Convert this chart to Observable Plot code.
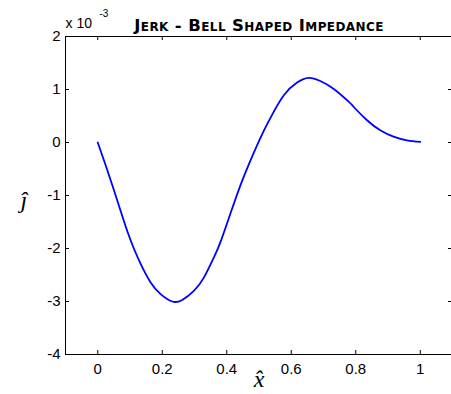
<!DOCTYPE html>
<html>
<head>
<meta charset="utf-8">
<script src="https://cdn.jsdelivr.net/npm/d3@7"></script>
<script src="https://cdn.jsdelivr.net/npm/@observablehq/plot@0.6"></script>
<style>
  html, body { margin: 0; padding: 0; background: #fff; }
</style>
</head>
<body>
<div id="chart"></div>
<script>
// Data (jerk values in units of 1e-3)
const xHat = [0, 0.025, 0.046, 0.066, 0.092, 0.112, 0.133, 0.164, 0.195, 0.231, 0.262, 0.298, 0.329, 0.360, 0.381, 0.412, 0.448, 0.484, 0.510, 0.536, 0.577, 0.618, 0.654, 0.690, 0.732, 0.778, 0.794, 0.835, 0.876, 0.917, 0.959, 1.0];
const jHat = [0, -0.44, -0.82, -1.20, -1.68, -2.00, -2.29, -2.64, -2.86, -3.00, -2.97, -2.80, -2.55, -2.17, -1.87, -1.33, -0.72, -0.19, 0.16, 0.47, 0.89, 1.13, 1.22, 1.16, 1.01, 0.77, 0.67, 0.42, 0.23, 0.11, 0.04, 0.01];
const xTicks = [0, 0.2, 0.4, 0.6, 0.8, 1];
const xTickLabels = ["0", "0.2", "0.4", "0.6", "0.8", "1"];
const yTicks = [2, 1, 0, -1, -2, -3, -4];
const yTickLabels = ["2", "1", "0", "-1", "-2", "-3", "-4"];
const titleText = "Jerk - Bell Shaped Impedance";
const exponentBase = "x 10";
const exponentPower = "-3";
const xLabel = "x\u0302";
const yLabel = "\u0135";

const data = xHat.map((x, i) => ({x, j: jHat[i]}));
const tickLen = 4;
const frameH = 394 - 36 - 40;
const frameW = 451 + 1 - 65;

const chart = Plot.plot({
  width: 451,
  height: 394,
  marginLeft: 65,
  marginRight: -1,
  marginTop: 36,
  marginBottom: 40,
  style: {fontFamily: "'Liberation Sans', Arial, sans-serif", fontSize: "15px", color: "#000", background: "#fff"},
  x: {domain: [-0.1, 1.1], label: null},
  y: {domain: [-4, 2], label: null},
  marks: [
    Plot.frame({stroke: "#000", strokeWidth: 1}),
    // inward ticks (bottom, top, left, right)
    Plot.ruleX(xTicks, {stroke: "#000", insetTop: frameH - tickLen}),
    Plot.ruleX(xTicks, {stroke: "#000", insetBottom: frameH - tickLen}),
    Plot.ruleY(yTicks, {stroke: "#000", insetRight: frameW - tickLen}),
    Plot.ruleY(yTicks, {stroke: "#000", insetLeft: frameW - tickLen}),
    Plot.axisX(xTicks, {tickSize: 0, tickPadding: 9, tickFormat: (d, i) => xTickLabels[i], fontSize: 15, fill: "#000", label: null}),
    Plot.axisY(yTicks, {tickSize: 0, tickPadding: 5, tickFormat: (d, i) => yTickLabels[i], fontSize: 15, fill: "#000", label: null}),
    Plot.line(data, {x: "x", y: "j", stroke: "#0000ff", strokeWidth: 1.8, curve: "natural"}),
    Plot.text([titleText], {frameAnchor: "top", dy: -17, fontWeight: "bold", fontVariant: "small-caps", fontFamily: "'DejaVu Sans', sans-serif", fontSize: 16.5, fill: "#000"}),
    Plot.text([exponentBase], {frameAnchor: "top-left", textAnchor: "start", dx: 0, dy: -18, fontSize: 14, fill: "#000"}),
    Plot.text([exponentPower], {frameAnchor: "top-left", textAnchor: "start", dx: 34, dy: -27, fontSize: 10, fill: "#000"}),
    Plot.text([xLabel], {frameAnchor: "bottom", dy: 32, fontFamily: "'Liberation Serif', serif", fontStyle: "italic", fontSize: 24, fill: "#000"}),
    Plot.text([yLabel], {frameAnchor: "left", dx: -45, dy: 5, fontFamily: "'Liberation Serif', serif", fontStyle: "italic", fontSize: 24, fill: "#000"})
  ]
});
document.getElementById("chart").appendChild(chart);
d3.select(chart).selectAll("text").each(function() {
  if (this.textContent.indexOf("Bell") >= 0) this.style.letterSpacing = "0.4px";
});
</script>
</body>
</html>
